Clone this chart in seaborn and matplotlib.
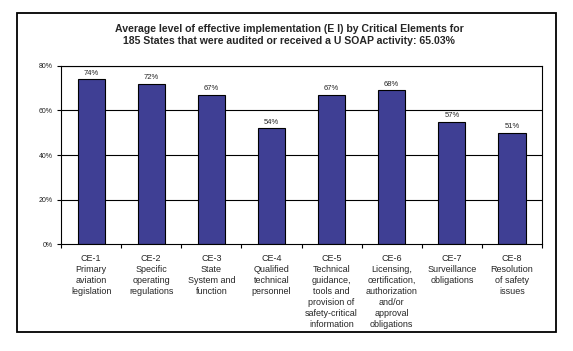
import matplotlib
matplotlib.use("Agg")
import matplotlib.pyplot as plt
import seaborn as sns
import pandas as pd
import numpy as np
from matplotlib.patches import Rectangle

categories = [
    "CE-1\nPrimary\naviation\nlegislation",
    "CE-2\nSpecific\noperating\nregulations",
    "CE-3\nState\nSystem and\nfunction",
    "CE-4\nQualified\ntechnical\npersonnel",
    "CE-5\nTechnical\nguidance,\ntools and\nprovision of\nsafety-critical\ninformation",
    "CE-6\nLicensing,\ncertification,\nauthorization\nand/or\napproval\nobligations",
    "CE-7\nSurveillance\nobligations",
    "CE-8\nResolution\nof safety\nissues",
]
values = [74, 72, 67, 52, 67, 69, 55, 50]
value_labels = ["74%", "72%", "67%", "54%", "67%", "68%", "57%", "51%"]
y_ticks = [0, 20, 40, 60, 80]
y_tick_labels = ["0%", "20%", "40%", "60%", "80%"]
title = ("Average level of effective implementation (E I) by Critical Elements for\n"
         "185 States that were audited or received a U SOAP activity: 65.03%")

sns.set_style("white")
plt.rcParams["font.family"] = ["Liberation Sans", "DejaVu Sans"]

df = pd.DataFrame({"cat": categories, "val": values})

fig = plt.figure(figsize=(5.73, 3.51), dpi=100)
ax = fig.add_axes([0.1065, 0.3048, 0.8395, 0.5072])

sns.barplot(data=df, x="cat", y="val", color="#3F3F94", width=0.45,
            edgecolor="black", linewidth=0.8, saturation=1, ax=ax)

ax.set_ylim(0, 80)
ax.set_xlim(-0.5, len(categories) - 0.5)
ax.set_yticks(y_ticks)
ax.set_yticklabels(y_tick_labels, fontsize=5, color="#222222")
ax.set_xlabel("")
ax.set_ylabel("")
ax.set_xticks(range(len(categories)))
ax.set_xticklabels(categories, fontsize=6.5, linespacing=1.3, va="top")
ax.tick_params(axis="x", which="major", length=0, pad=7)
ax.set_xticks(np.arange(-0.5, len(categories), 1.0), minor=True)
ax.tick_params(axis="x", which="minor", length=3, width=0.8, color="black", direction="out", bottom=True)
ax.tick_params(axis="y", length=3, width=0.8, color="black", direction="out", left=True, pad=3)

for y in y_ticks[1:]:
    ax.axhline(y, color="black", linewidth=0.8, zorder=0)

for s in ax.spines.values():
    s.set_visible(True)
    s.set_color("black")
    s.set_linewidth(0.8)

ax.bar_label(ax.containers[0], labels=value_labels, fontsize=5.5, padding=2)

fig.text(0.505, 0.9, title, ha="center", va="center", fontsize=7.6,
         fontweight="bold", linespacing=1.25)

fig.patches.append(Rectangle((0.0297, 0.054), 0.9403, 0.909, transform=fig.transFigure,
                             fill=False, edgecolor="black", linewidth=1.3))

fig.savefig("out.png", dpi=100)
